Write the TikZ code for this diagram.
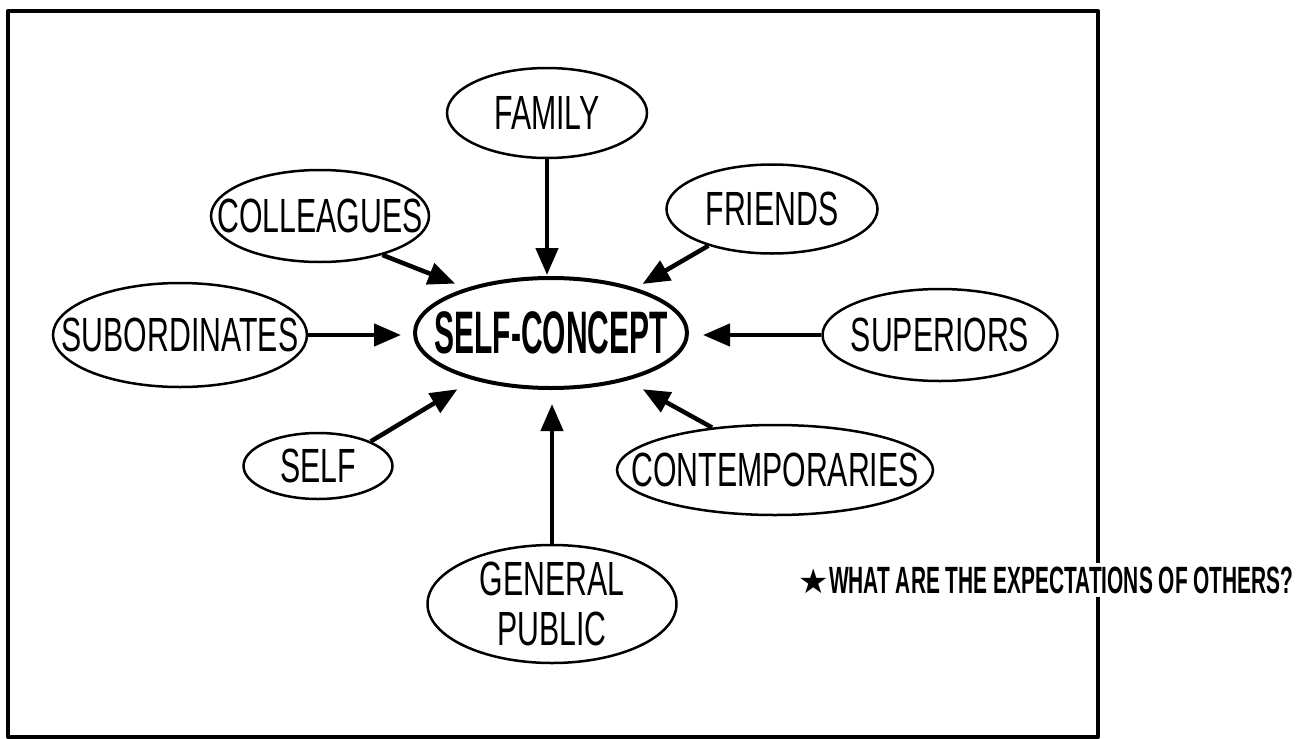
\documentclass[tikz,border=0pt]{standalone}
\usepackage{fontspec}
\usetikzlibrary{shapes.geometric,arrows.meta}
\newfontfamily\condfont[FakeStretch=0.63]{Liberation Sans}
\newfontfamily\condbold[FakeStretch=0.5]{Liberation Sans Bold}
\newfontfamily\notebold[FakeStretch=0.55]{Liberation Sans Bold}
\newfontfamily\symfont{DejaVu Sans}
\begin{document}
\begin{tikzpicture}[x=1pt,y=-1pt,
  bubble/.style={ellipse, draw, line width=2.5pt, inner sep=0pt},
  every label/.style={font=\condfont\fontsize{48}{50}\selectfont, inner sep=0pt, align=center},
  feed/.style={line width=4.5pt, -{Triangle[length=27pt,width=22pt]}}]
\useasboundingbox (0,0) rectangle (1304,739);
% outer frame
\draw[line width=4pt, line join=round] (8,11) rectangle (1098,737);

% central concept
\node[bubble, line width=4pt, minimum width=272pt, minimum height=110pt,
      label={[font=\condbold\fontsize{60}{62}\selectfont]center:SELF-CONCEPT}] (sc) at (551,333) {};

% surrounding influences
\node[bubble, minimum width=200pt, minimum height=90pt, label={center:FAMILY}] (fam) at (547,113) {};
\node[bubble, minimum width=218pt, minimum height=92pt, label={center:COLLEAGUES}] (coll) at (320,216) {};
\node[bubble, minimum width=211pt, minimum height=89pt, label={center:FRIENDS}] (fri) at (772,209) {};
\node[bubble, minimum width=235pt, minimum height=92pt, label={center:SUPERIORS}] (sup) at (940,335) {};
\node[bubble, minimum width=254pt, minimum height=104pt, label={center:SUBORDINATES}] (sub) at (180,335) {};
\node[bubble, minimum width=149pt, minimum height=66pt, label={center:SELF}] (self) at (318,466) {};
\node[bubble, minimum width=316pt, minimum height=90pt, label={center:CONTEMPORARIES}] (cont) at (775,470) {};
\node[bubble, minimum width=249pt, minimum height=118pt, label={center:GENERAL\\PUBLIC}] (gp) at (552,604) {};

% arrows into the self-concept
\draw[feed, shorten >=1pt] (fam.south) -- (fam.south |- sc.north);
\draw[feed, shorten >=12pt] (coll.-32) -- (sc.152);
\draw[feed, shorten >=8pt] (fri.210) -- (sc.28);
\draw[feed, shorten >=14pt] (sup.west) -- (sup.west -| sc.east);
\draw[feed, shorten >=12pt] (sub.east) -- (sub.east -| sc.west);
\draw[feed, shorten >=18pt] (self.25) -- (sc.211);
\draw[feed, shorten >=14pt] (gp.north) -- (gp.north |- sc.south);
\draw[feed, shorten >=18pt] (cont.146) -- (sc.-32);

% question beside the frame
\node[fill=white, inner sep=4pt, font=\notebold\fontsize{38}{40}\selectfont] (q) at (1046,580)
  {{\symfont\fontsize{34}{34}\selectfont ★}WHAT ARE THE EXPECTATIONS OF OTHERS?};
\end{tikzpicture}
\end{document}
